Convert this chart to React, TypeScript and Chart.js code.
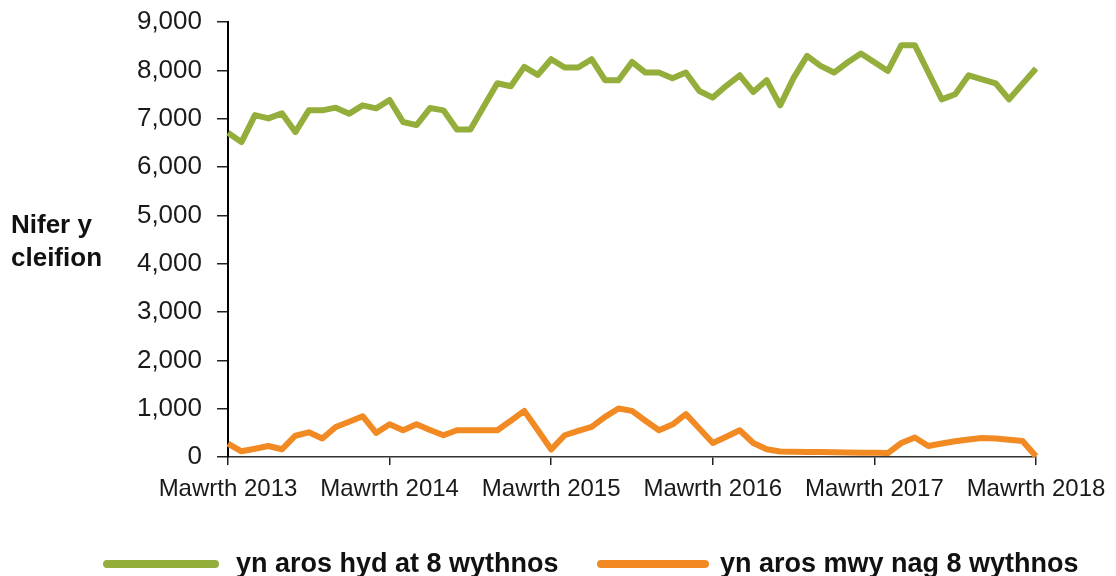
import React, { useEffect, useRef } from "react";
import { Chart, registerables } from "chart.js";

Chart.register(...registerables);

// Monthly values, March 2013 (index 0) to March 2018 (index 60)
const upTo8Weeks: number[] = [
  6710, 6515, 7075, 7006, 7110, 6722, 7172, 7172, 7228, 7104, 7276, 7214,
  7386, 6930, 6867, 7220, 7172, 6778, 6778, 7255, 7732, 7670, 8071, 7905,
  8230, 8058, 8058, 8230, 7795, 7795, 8174, 7954, 7954, 7836, 7954, 7573,
  7436, 7680, 7898, 7552, 7795, 7276, 7843, 8299, 8092, 7954, 8162, 8347,
  8167, 7988, 8520, 8520, 7960, 7400, 7504, 7898, 7815, 7732, 7400, 7720,
  8037,
];

const over8Weeks: number[] = [
  278, 118, 170, 228, 160, 440, 510, 382, 622, 730, 844, 498,
  678, 554, 678, 560, 450, 554, 554, 554, 554, 750, 954, 560,
  154, 450, 540, 622, 830, 1004, 954, 750, 554, 672, 886, 590,
  290, 420, 554, 290, 160, 115, 110, 106, 102, 98, 94, 90,
  86, 82, 290, 402, 228, 280, 325, 362, 392, 382, 355, 330,
  15,
];

const xTickLabels: string[] = [
  "Mawrth 2013",
  "Mawrth 2014",
  "Mawrth 2015",
  "Mawrth 2016",
  "Mawrth 2017",
  "Mawrth 2018",
];

const seriesNames: string[] = [
  "yn aros hyd at 8 wythnos",
  "yn aros mwy nag 8 wythnos",
];

const yTitleLines: string[] = ["Nifer y", "cleifion"];

const GREEN = "#94AE3C";
const ORANGE = "#F28A24";
const FONT = "'Liberation Sans', Arial, Helvetica, sans-serif";

export default function App() {
  const canvasRef = useRef<HTMLCanvasElement | null>(null);

  useEffect(() => {
    const canvas = canvasRef.current;
    if (!canvas) return;

    const overlay = {
      id: "overlay",
      afterDraw(chart: any) {
        const ctx = chart.ctx as CanvasRenderingContext2D;
        ctx.save();
        // y-axis title
        ctx.fillStyle = "#111";
        ctx.font = `bold 26px ${FONT}`;
        ctx.textAlign = "left";
        ctx.textBaseline = "alphabetic";
        ctx.fillText(yTitleLines[0], 11, 233);
        ctx.fillText(yTitleLines[1], 11, 266);

        // legend
        ctx.font = `bold 27px ${FONT}`;
        const items = [
          { x1: 107, x2: 215, tx: 236, color: GREEN, label: seriesNames[0] },
          { x1: 601, x2: 705, tx: 720, color: ORANGE, label: seriesNames[1] },
        ];
        for (const it of items) {
          ctx.strokeStyle = it.color;
          ctx.lineWidth = 8;
          ctx.lineCap = "round";
          ctx.beginPath();
          ctx.moveTo(it.x1, 564);
          ctx.lineTo(it.x2, 564);
          ctx.stroke();
          ctx.fillStyle = "#111";
          ctx.fillText(it.label, it.tx, 572);
        }
        ctx.restore();
      },
    };

    const chart = new Chart(canvas, {
      type: "line",
      data: {
        datasets: [
          {
            label: seriesNames[0],
            data: upTo8Weeks.map((v, i) => ({ x: i, y: v })),
            borderColor: GREEN,
            borderWidth: 6,
            pointRadius: 0,
            tension: 0,
            borderJoinStyle: "round",
            clip: false,
          },
          {
            label: seriesNames[1],
            data: over8Weeks.map((v, i) => ({ x: i, y: v })),
            borderColor: ORANGE,
            borderWidth: 6,
            pointRadius: 0,
            tension: 0,
            borderJoinStyle: "round",
            clip: false,
          },
        ],
      },
      options: {
        animation: false,
        responsive: false,
        maintainAspectRatio: false,
        layout: { padding: { left: 0, right: 80, top: 22, bottom: 0 } },
        plugins: {
          legend: { display: false },
          tooltip: { enabled: false },
        },
        scales: {
          x: {
            type: "linear",
            min: 0,
            max: 60,
            afterFit(scale: any) {
              scale.height = 119;
            },
            afterBuildTicks(scale: any) {
              scale.ticks = xTickLabels.map((_, i) => ({ value: i * 12 }));
            },
            ticks: {
              autoSkip: false,
              maxRotation: 0,
              padding: 10,
              color: "#1a1a1a",
              font: { family: FONT, size: 24 },
              callback: (v: any) => xTickLabels[Math.round(Number(v) / 12)],
            },
            grid: {
              drawOnChartArea: false,
              drawTicks: true,
              tickLength: 8,
              color: "#222",
              lineWidth: 1.5,
            },
            border: { display: true, color: "#333", width: 1.5 },
          },
          y: {
            min: 0,
            max: 9000,
            afterFit(scale: any) {
              scale.width = 228;
              scale.paddingTop = 0;
              scale.paddingBottom = 0;
            },
            ticks: {
              stepSize: 1000,
              padding: 15,
              color: "#1a1a1a",
              font: { family: FONT, size: 26 },
              callback: (v: any) => Number(v).toLocaleString("en-US"),
            },
            grid: {
              drawOnChartArea: false,
              drawTicks: true,
              tickLength: 11,
              color: "#222",
              lineWidth: 1.5,
            },
            border: { display: true, color: "#000", width: 2 },
          },
        },
      },
      plugins: [overlay],
    });

    return () => chart.destroy();
  }, []);

  return (
    <div style={{ position: "fixed", left: 0, top: 0, width: 1116, height: 576, background: "#fff" }}>
      <canvas ref={canvasRef} width={1116} height={576} style={{ width: 1116, height: 576 }} />
    </div>
  );
}
